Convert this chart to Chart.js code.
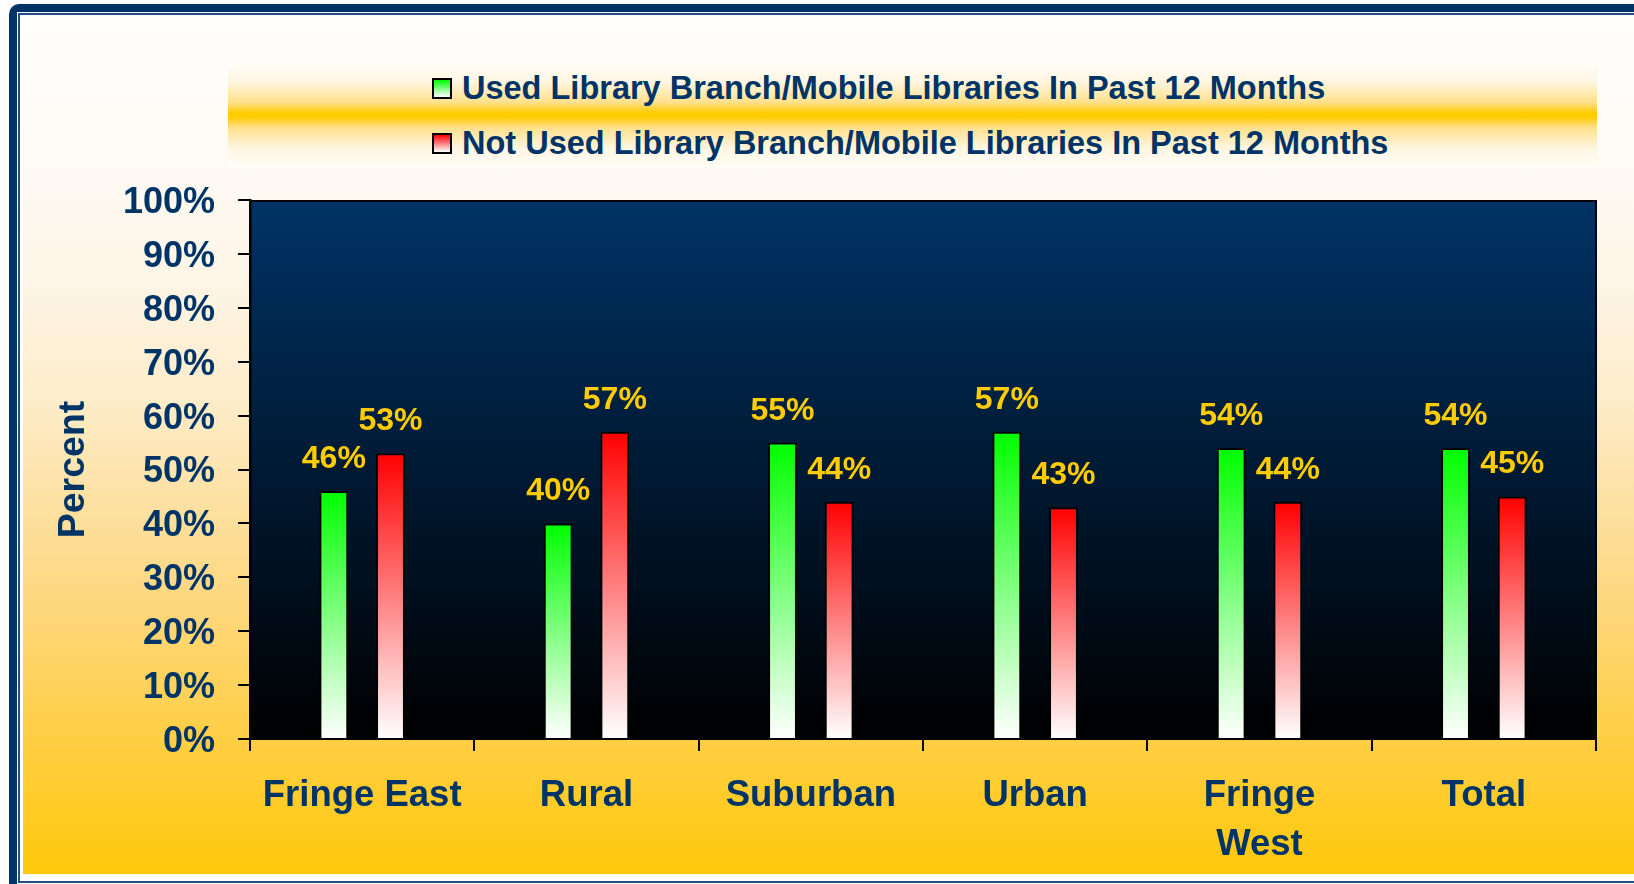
<!DOCTYPE html>
<html>
<head>
<meta charset="utf-8">
<script src="https://cdn.jsdelivr.net/npm/chart.js@4.4.0/dist/chart.umd.min.js"></script>
<style>
html,body{margin:0;padding:0;width:1634px;height:884px;overflow:hidden;background:#fff;font-family:"Liberation Sans",Arial,sans-serif;}
#outer{position:absolute;left:9px;top:4px;width:1700px;height:1000px;background:#003366;border-top-left-radius:10px;}
#inner{position:absolute;left:17px;top:12px;width:1700px;height:1000px;background:#fff;}
#thin{position:absolute;left:18px;top:13px;width:1700px;height:866px;border-left:2px solid #24507f;border-top:2px solid #24507f;border-bottom:2px solid #24507f;background:#fff;}
#content{position:absolute;left:23px;top:17px;width:1611px;height:857px;
  background:linear-gradient(to bottom,#fffefd 0%,#fefaf3 19%,#fdf4e4 32%,#fdecc8 45%,#fde0a0 57.5%,#fed678 70%,#ffcf48 83%,#ffc80a 100%);}
#band{position:absolute;left:228px;top:63px;width:1369px;height:104px;
  background:linear-gradient(to bottom,#fffdf8 0%,#fff6e2 18%,#ffe08a 38%,#ffcc00 48%,#ffcc00 52%,#ffe08a 62%,#fff6e2 82%,#fffdf8 100%);}
.lgbox{position:absolute;left:432px;width:20px;height:21px;box-sizing:border-box;border:2px solid #000;}
.lgtxt{position:absolute;left:462px;font-size:32.5px;font-weight:bold;line-height:40px;color:#003366;white-space:nowrap;}
canvas{position:absolute;left:0;top:0;}
</style>
</head>
<body>
<div id="outer"></div>
<div id="inner"></div>
<div id="thin"></div>
<div id="content"></div>
<div id="band"></div>
<div id="legend"></div>
<canvas id="c" width="1634" height="884"></canvas>
<script>
const categories = ['Fringe East', 'Rural', 'Suburban', 'Urban', ['Fringe', 'West'], 'Total'];
const usedValues = [46, 40, 55, 57, 54, 54];
const notUsedValues = [53, 57, 44, 43, 44, 45];
const seriesLabels = [
  'Used Library Branch/Mobile Libraries In Past 12 Months',
  'Not Used Library Branch/Mobile Libraries In Past 12 Months'
];
const seriesTopColors = ['#00ff00', '#ff0000'];
const yTickValues = [0, 10, 20, 30, 40, 50, 60, 70, 80, 90, 100];

// HTML legend built from series labels
const legendEl = document.getElementById('legend');
const legendRowTops = [78, 133];
seriesLabels.forEach((lab, i) => {
  const b = document.createElement('div');
  b.className = 'lgbox';
  b.style.top = legendRowTops[i] + 'px';
  b.style.background = 'linear-gradient(to bottom,' + seriesTopColors[i] + ',#ffffff)';
  legendEl.appendChild(b);
  const t = document.createElement('div');
  t.className = 'lgtxt';
  t.style.top = (legendRowTops[i] - 10.5) + 'px';
  t.textContent = lab;
  legendEl.appendChild(t);
});

Chart.defaults.font.family = '"Liberation Sans", Arial, sans-serif';

function barGradient(topColor) {
  return function (c) {
    const chart = c.chart;
    if (!chart.chartArea || c.type !== 'data') return topColor;
    const ys = chart.scales.y;
    const y0 = ys.getPixelForValue(c.raw);
    const y1 = ys.getPixelForValue(0);
    const g = chart.ctx.createLinearGradient(0, y0, 0, y1);
    g.addColorStop(0, topColor);
    g.addColorStop(1, '#ffffff');
    return g;
  };
}

const plotBg = {
  id: 'plotBg',
  beforeDraw(chart) {
    const { ctx, chartArea: a } = chart;
    const g = ctx.createLinearGradient(0, a.top, 0, a.bottom);
    g.addColorStop(0, '#003366');
    g.addColorStop(1, '#000000');
    ctx.save();
    ctx.fillStyle = g;
    ctx.fillRect(a.left, a.top, a.right - a.left, a.bottom - a.top);
    ctx.restore();
  },
  afterDraw(chart) {
    const { ctx, chartArea: a } = chart;
    ctx.save();
    ctx.strokeStyle = '#000';
    ctx.lineWidth = 2;
    ctx.beginPath();
    ctx.moveTo(a.left, a.top + 1);
    ctx.lineTo(a.right, a.top + 1);
    ctx.moveTo(a.right, a.top);
    ctx.lineTo(a.right, a.bottom);
    ctx.stroke();
    ctx.restore();
  }
};

const valueLabels = {
  id: 'valueLabels',
  afterDatasetsDraw(chart) {
    const ctx = chart.ctx;
    ctx.save();
    ctx.font = 'bold 32px "Liberation Sans", Arial, sans-serif';
    ctx.fillStyle = '#ffcc00';
    ctx.textAlign = 'center';
    ctx.textBaseline = 'alphabetic';
    chart.data.datasets.forEach((ds, i) => {
      const meta = chart.getDatasetMeta(i);
      meta.data.forEach((el, j) => {
        ctx.fillText(ds.data[j] + '%', el.x, el.y - 23);
      });
    });
    ctx.restore();
  }
};

new Chart(document.getElementById('c'), {
  type: 'bar',
  data: {
    labels: categories,
    datasets: [
      { label: seriesLabels[0], data: usedValues, backgroundColor: barGradient(seriesTopColors[0]) },
      { label: seriesLabels[1], data: notUsedValues, backgroundColor: barGradient(seriesTopColors[1]) }
    ]
  },
  options: {
    responsive: false,
    animation: false,
    devicePixelRatio: 1,
    layout: { padding: { top: 200, right: 38, bottom: 0, left: 0 } },
    datasets: {
      bar: {
        categoryPercentage: 0.505,
        barPercentage: 0.51,
        borderColor: '#000000',
        borderWidth: 2
      }
    },
    plugins: { legend: { display: false }, tooltip: { enabled: false } },
    scales: {
      x: {
        afterFit(s) { s.height = 145; },
        ticks: { font: { size: 36.5, weight: 'bold', lineHeight: 1.33 }, color: '#003366', padding: 21, maxRotation: 0, autoSkip: false },
        grid: { drawOnChartArea: false, drawTicks: true, tickLength: 12, color: '#000', lineWidth: 2, offset: true },
        border: { display: true, color: '#000', width: 2 }
      },
      y: {
        min: 0,
        max: 100,
        afterFit(s) { s.width = 250; },
        afterBuildTicks(s) { s.ticks = yTickValues.map(v => ({ value: v })); },
        ticks: { callback: v => v + '%', font: { size: 36, weight: 'bold' }, color: '#003366', padding: 23, labelOffset: 3 },
        grid: { drawOnChartArea: false, drawTicks: true, tickLength: 12, color: '#000', lineWidth: 2 },
        border: { display: true, color: '#000', width: 2.5 },
        title: { display: true, text: 'Percent', font: { size: 37.5, weight: 'bold' }, color: '#003366', padding: { top: 51, bottom: 0 } }
      }
    }
  },
  plugins: [plotBg, valueLabels]
});
</script>
</body>
</html>
